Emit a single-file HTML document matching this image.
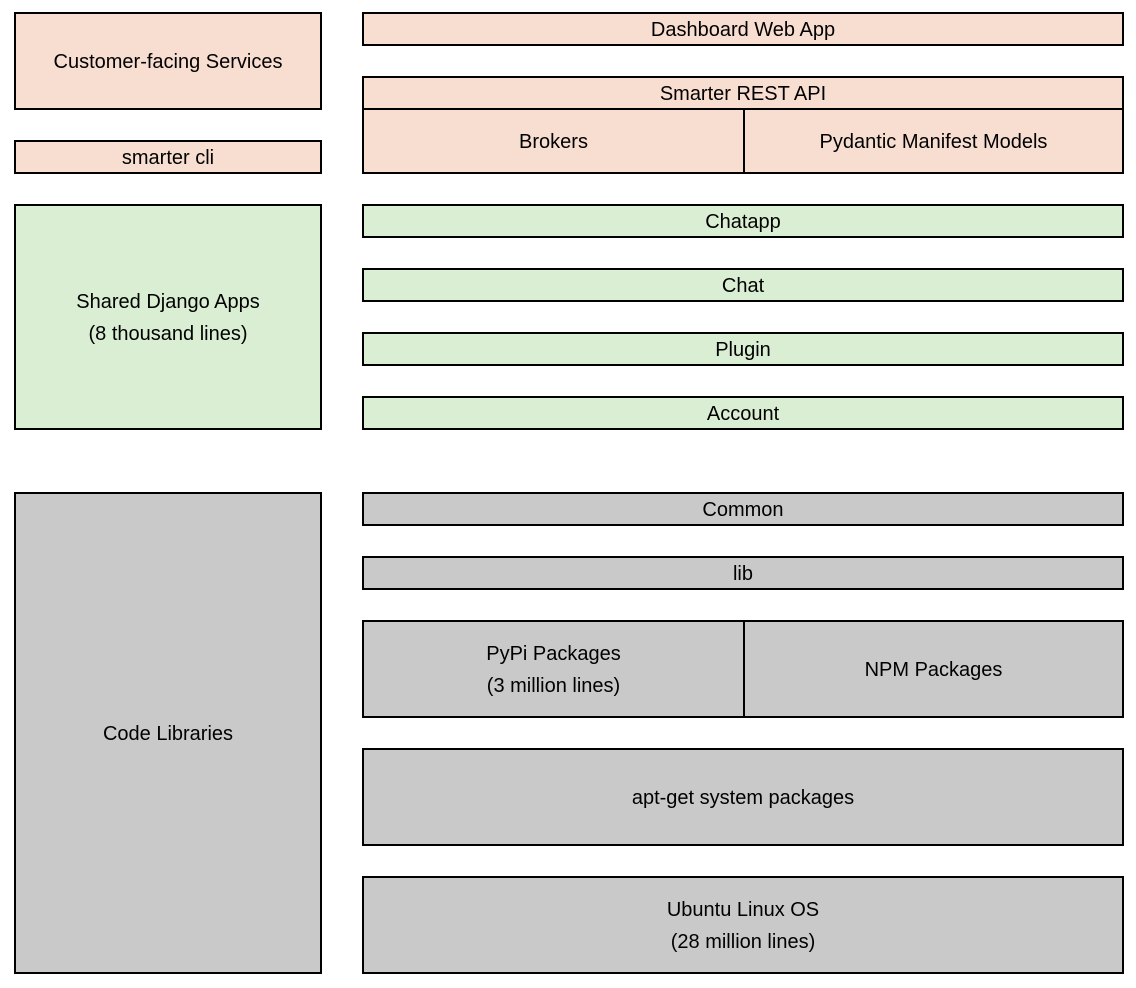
<!DOCTYPE html>
<html><head><meta charset="utf-8"><style>
body{margin:0;width:1136px;height:988px;background:#fff;position:relative;font-family:"Liberation Sans",sans-serif;font-size:20px;color:#000}
.b{position:absolute;box-sizing:border-box;border:2px solid #000;display:flex;align-items:center;justify-content:center;text-align:center;line-height:32px;padding-top:2px}
.p{background:#F8DDD1}.g{background:#DAEED3}.y{background:#C9C9C9}
</style></head><body>
<div class="b p" style="left:14px;top:12px;width:308px;height:98px">Customer-facing Services</div>
<div class="b p" style="left:14px;top:140px;width:308px;height:34px">smarter cli</div>
<div class="b g" style="left:14px;top:204px;width:308px;height:226px">Shared Django Apps<br>(8 thousand lines)</div>
<div class="b y" style="left:14px;top:492px;width:308px;height:482px">Code Libraries</div>

<div class="b p" style="left:362px;top:12px;width:762px;height:34px">Dashboard Web App</div>
<div class="b p" style="left:362px;top:76px;width:762px;height:34px">Smarter REST API</div>
<div class="b p" style="left:362px;top:108px;width:383px;height:66px">Brokers</div>
<div class="b p" style="left:743px;top:108px;width:381px;height:66px">Pydantic Manifest Models</div>

<div class="b g" style="left:362px;top:204px;width:762px;height:34px">Chatapp</div>
<div class="b g" style="left:362px;top:268px;width:762px;height:34px">Chat</div>
<div class="b g" style="left:362px;top:332px;width:762px;height:34px">Plugin</div>
<div class="b g" style="left:362px;top:396px;width:762px;height:34px">Account</div>

<div class="b y" style="left:362px;top:492px;width:762px;height:34px">Common</div>
<div class="b y" style="left:362px;top:556px;width:762px;height:34px">lib</div>
<div class="b y" style="left:362px;top:620px;width:383px;height:98px">PyPi Packages<br>(3 million lines)</div>
<div class="b y" style="left:743px;top:620px;width:381px;height:98px">NPM Packages</div>
<div class="b y" style="left:362px;top:748px;width:762px;height:98px">apt-get system packages</div>
<div class="b y" style="left:362px;top:876px;width:762px;height:98px">Ubuntu Linux OS<br>(28 million lines)</div>
</body></html>
